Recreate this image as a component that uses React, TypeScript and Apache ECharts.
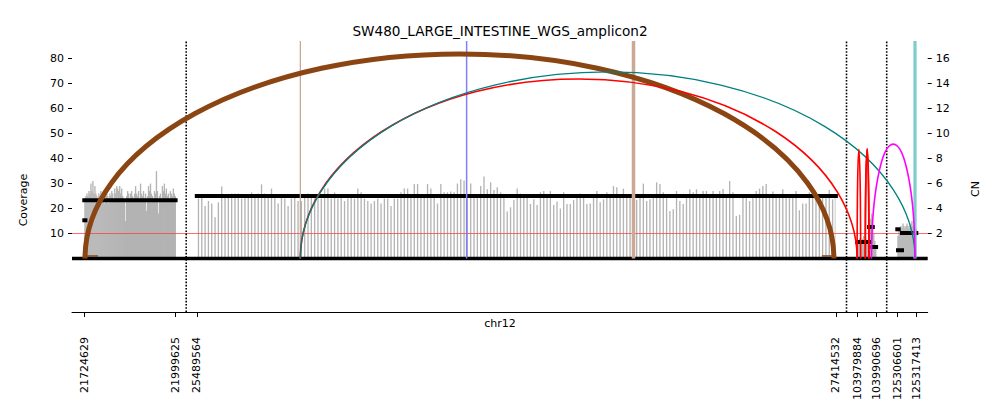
import React, { useEffect, useRef } from "react";
import * as echarts from "echarts";

// ---------------- data ----------------
const TITLE = "SW480_LARGE_INTESTINE_WGS_amplicon2";
const X_NAME = "chr12";
const Y_LEFT_NAME = "Coverage";
const Y_RIGHT_NAME = "CN";

const intervalStarts = [21724629, 25489564, 103979884, 125306601];
const intervalEnds = [21999625, 27414532, 103990696, 125317413];
const tickPositions = [
  21724629, 21999625, 25489564, 27414532, 103979884, 103990696, 125306601, 125317413,
];

const coverageTicks = [10, 20, 30, 40, 50, 60, 70, 80];
const cnTicks = [2, 4, 6, 8, 10, 12, 14, 16];
const referenceCN = 2;
const baselineCoverage = 0;

// coverage windows (bp) per interval
const coverageWindows = [2990, 10000, 569, 569];
const coverage1 = [
  24, 25, 26, 25, 27, 26, 30, 27, 31, 26, 29, 26, 25, 21, 26, 25, 27, 24, 26, 25, 22, 26, 27,
  25, 22, 26, 25, 27, 26, 24, 28, 26, 29, 28, 27, 29, 26, 28, 25, 24, 23, 15, 25, 27, 26, 24,
  26, 27, 25, 23, 26, 29, 26, 25, 27, 24, 30, 26, 25, 27, 24, 26, 19, 25, 29, 27, 30, 26, 25,
  24, 27, 26, 35, 27, 18, 25, 26, 24, 29, 27, 30, 26, 28, 25, 26, 24, 27, 26, 25, 28, 26, 25,
];
const coverage2 = [
  24, 25, 21, 23, 22, 16.5, 22.5, 28.8, 25, 25, 26, 26, 26, 24, 25, 25, 26.5, 25, 26, 29.7,
  26, 25, 28, 25, 22, 25, 24, 21, 24, 25, 23, 23, 25, 26, 25, 24, 25, 24, 28, 28,
  24, 26.5, 24, 25, 23, 24, 25, 24, 28, 26.5, 24, 23, 22, 23, 24, 22, 24, 24, 21, 24,
  24, 26.5, 28, 28, 25, 29.8, 29.8, 25, 25, 29.8, 28, 25, 22, 29.8, 26.5, 26.5, 26.8, 26.5, 30, 31.7,
  31.2, 25, 30, 25, 25, 29, 32.8, 27.7, 30.5, 27.4, 28.5, 26.5, 25, 18.8, 20.5, 23.4, 28, 26, 25, 25,
  21.8, 23.7, 21.4, 26.5, 27, 25, 27, 21.4, 22.8, 20, 26.5, 21.8, 21.8, 23.4, 25, 26, 25, 21.8, 22, 25,
  27, 22.5, 23.7, 26.5, 25, 29, 28.5, 25, 28, 25, 25, 25, 23.4, 25, 30, 23, 23.7, 25, 30.5, 29.8,
  26.5, 25, 19, 19.7, 27, 23, 21.8, 25, 27.7, 26.5, 27.7, 25, 27, 27, 25, 27, 25, 27, 27.8, 25,
  31, 26.5, 17, 17.5, 25, 25, 23, 25, 27, 28, 29, 29.8, 25, 26.8, 25, 25, 27.7, 25, 25, 25,
  27, 19.3, 22, 22, 26.5, 25, 25, 25, 25, 25, 27.4, 23.7, 25,
];
const coverage3 = [6, 7, 8, 6, 7, 8, 9, 7, 8, 6, 7, 9, 12, 16, 18, 14, 10, 7, 5];
const coverage4 = [9, 11, 12, 13, 12, 14, 13, 12, 13, 14, 13, 12, 13, 14, 15, 13, 12, 13, 12];

// copy-number segments
const cnStarts = [21724629, 21724629, 25489564, 103979884, 103986712, 103988647, 125306601, 125309275, 125307000];
const cnEnds = [21999625, 21728000, 27414532, 103987000, 103988817, 103990696, 125307400, 125317413, 125309275];
const cnValues = [4.66, 3.06, 5.0, 1.32, 2.52, 0.92, 2.34, 2.04, 0.66];

// breakpoint arcs
const arcStarts = [21726700, 25801400, 25801400, 103979900, 103984500, 103984600, 103988078];
const arcEnds = [27408500, 103979900, 125316672, 103981900, 103986600, 103986700, 125316672];
const arcPeaks = [81.9, 71.9, 74.7, 43.7, 43.7, 43.7, 45.8];
const arcTypes = ["brown", "red", "teal", "red", "red", "red", "magenta"];

// source edges
const sourcePositions = [25801400, 26302264, 26804934, 125316672];
const sourceTypes = ["brownThin", "blue", "brownThick", "teal"];

// ---------------- styles / layout ----------------
const FONT = '"DejaVu Sans", sans-serif';
const GRAY = "#b3b3b3";
const ARC_STYLE: Record<string, { color: string; width: number; foot: number }> = {
  brown: { color: "#8B4513", width: 5, foot: 13 },
  red: { color: "#ff0000", width: 1.6, foot: 0 },
  teal: { color: "#008080", width: 1.3, foot: 0 },
  magenta: { color: "#ff00ff", width: 1.6, foot: 0 },
};
const SOURCE_STYLE: Record<string, { color: string; width: number }> = {
  brownThin: { color: "#c9a08a", width: 1.2 },
  blue: { color: "#8080ff", width: 1.5 },
  brownThick: { color: "#cba994", width: 3.5 },
  teal: { color: "#7fcccc", width: 3.2 },
};
const BAR_FRACTION = [1, 0.4, 1, 1];

const COV_MIN = -21.43;
const COV_MAX = 87.1;
const CN_PER_COV = 0.2;

const BP_PER_UNIT = 3012;
const MIN_UNITS = 19;
const GAP_UNITS = 21.2;
const PAD_LEFT = 12.3;
const PAD_RIGHT = 11.4;

const widths = intervalStarts.map((s, i) =>
  Math.max((intervalEnds[i] - s) / BP_PER_UNIT, MIN_UNITS)
);
const offsets: number[] = [];
let acc = PAD_LEFT;
for (let i = 0; i < widths.length; i++) {
  offsets.push(acc);
  acc += widths[i] + (i < widths.length - 1 ? GAP_UNITS : PAD_RIGHT);
}
const X_MAX = acc;

function toX(pos: number): number {
  let best = 0;
  let bestD = Infinity;
  for (let i = 0; i < intervalStarts.length; i++) {
    const d =
      pos < intervalStarts[i] ? intervalStarts[i] - pos : pos > intervalEnds[i] ? pos - intervalEnds[i] : 0;
    if (d < bestD) {
      bestD = d;
      best = i;
    }
  }
  const s = intervalStarts[best];
  const e = intervalEnds[best];
  return offsets[best] + ((pos - s) / (e - s)) * widths[best];
}

const tickXs = tickPositions.map(toX);
const gapCenters = offsets.slice(0, -1).map((o, i) => o + widths[i] + GAP_UNITS / 2);

const coverageSets = [coverage1, coverage2, coverage3, coverage4];
const coverageData: number[][] = [];
coverageSets.forEach((vals, s) => {
  const w = coverageWindows[s];
  vals.forEach((v, j) => {
    const a = intervalStarts[s] + j * w;
    const b = Math.min(a + w, intervalEnds[s]);
    coverageData.push([toX(a), toX(b), v, s]);
  });
});

const cnData = cnValues.map((v, i) => [toX(cnStarts[i]), toX(cnEnds[i]), v]);
const arcData = arcPeaks.map((h, i) => [toX(arcStarts[i]), toX(arcEnds[i]), h]);
const sourceData = sourcePositions.map((p) => [toX(p)]);

export default function App() {
  const ref = useRef<HTMLDivElement>(null);
  useEffect(() => {
    document.body.style.margin = "0";
    if (!ref.current) return;
    const chart = echarts.init(ref.current, undefined, { renderer: "svg" });

    const textStyle = (text: string, size: number) => ({
      text,
      font: `${size}px ${FONT}`,
      fill: "#000",
      align: "center",
      verticalAlign: "middle",
    });

    const option: any = {
      animation: false,
      backgroundColor: "#ffffff",
      grid: { left: 72, right: 72.3, top: 41, bottom: 104, containLabel: false },
      graphic: [
        { type: "text", x: 500, y: 30.5, style: textStyle(TITLE, 13.6) },
        { type: "text", x: 23, y: 200, rotation: Math.PI / 2, style: textStyle(Y_LEFT_NAME, 11) },
        { type: "text", x: 975, y: 189, rotation: Math.PI / 2, style: textStyle(Y_RIGHT_NAME, 11) },
        { type: "text", x: 500, y: 323, style: textStyle(X_NAME, 11) },
      ],
      xAxis: {
        type: "value",
        min: 0,
        max: X_MAX,
        position: "bottom",
        axisLine: { show: true, onZero: false, lineStyle: { color: "#000", width: 1 } },
        axisTick: { show: true, customValues: tickXs, length: 5, lineStyle: { color: "#000", width: 1 } },
        axisLabel: {
          customValues: tickXs,
          rotate: 90,
          margin: 25,
          color: "#000",
          fontSize: 11,
          fontFamily: FONT,
          formatter: (val: number) => {
            let bi = 0;
            let bd = Infinity;
            tickXs.forEach((t, i) => {
              const d = Math.abs(t - val);
              if (d < bd) {
                bd = d;
                bi = i;
              }
            });
            return String(tickPositions[bi]);
          },
        },
        splitLine: { show: false },
      },
      yAxis: [
        {
          type: "value",
          min: COV_MIN,
          max: COV_MAX,
          position: "left",
          axisLine: { show: false },
          axisTick: { show: true, customValues: coverageTicks, length: 4, lineStyle: { color: "#000" } },
          axisLabel: { customValues: coverageTicks, margin: 8, color: "#000", fontSize: 11, fontFamily: FONT },
          splitLine: { show: false },
        },
        {
          type: "value",
          min: COV_MIN * CN_PER_COV,
          max: COV_MAX * CN_PER_COV,
          position: "right",
          axisLine: { show: false },
          axisTick: { show: true, customValues: cnTicks, length: 4, lineStyle: { color: "#000" } },
          axisLabel: { customValues: cnTicks, margin: 8, color: "#000", fontSize: 11, fontFamily: FONT },
          splitLine: { show: false },
        },
      ],
      series: [
        {
          type: "custom",
          name: "coverage",
          silent: true,
          z: 1,
          data: coverageData,
          renderItem: (params: any, api: any) => {
            const x0 = api.value(0);
            const x1 = api.value(1);
            const v = api.value(2);
            const s = api.value(3);
            const p0 = api.coord([x0, 0]);
            const p1 = api.coord([x1, v]);
            const full = p1[0] - p0[0];
            const frac = BAR_FRACTION[s];
            const w = frac >= 1 ? full + 0.35 : full * frac;
            const cx = (p0[0] + p1[0]) / 2;
            return {
              type: "rect",
              shape: { x: frac >= 1 ? p0[0] : cx - w / 2, y: p1[1], width: w, height: p0[1] - p1[1] },
              style: { fill: GRAY },
            };
          },
        },
        {
          type: "custom",
          name: "cn2",
          silent: true,
          yAxisIndex: 1,
          z: 2,
          data: [[0, referenceCN]],
          renderItem: (params: any, api: any) => {
            const a = api.coord([0, api.value(1)]);
            const b = api.coord([X_MAX, api.value(1)]);
            const y = Math.floor(a[1]) + 0.5;
            return {
              type: "rect",
              shape: { x: a[0], y: y - 0.6, width: b[0] - a[0], height: 1.2 },
              style: { fill: "rgb(255,60,60)", opacity: 0.75 },
            };
          },
        },
        {
          type: "custom",
          name: "baseline",
          silent: true,
          z: 3,
          data: [[0, baselineCoverage]],
          renderItem: (params: any, api: any) => {
            const a = api.coord([0, api.value(1)]);
            const b = api.coord([X_MAX, api.value(1)]);
            return {
              type: "rect",
              shape: { x: a[0], y: a[1] - 1.75, width: b[0] - a[0], height: 3.5 },
              style: { fill: "#000" },
            };
          },
        },
        {
          type: "custom",
          name: "breaks",
          silent: true,
          z: 3,
          data: gapCenters.map((g) => [g]),
          renderItem: (params: any, api: any) => {
            const x = api.value(0);
            const a = api.coord([x, COV_MIN]);
            const b = api.coord([x, COV_MAX]);
            return {
              type: "line",
              shape: { x1: a[0], y1: a[1], x2: b[0], y2: b[1] },
              style: { stroke: "#000", lineWidth: 1.6, lineDash: [1.6, 1.6] },
            };
          },
        },
        {
          type: "custom",
          name: "cn",
          silent: true,
          yAxisIndex: 1,
          z: 3,
          data: cnData,
          renderItem: (params: any, api: any) => {
            const p0 = api.coord([api.value(0), api.value(2)]);
            const p1 = api.coord([api.value(1), api.value(2)]);
            return {
              type: "rect",
              shape: { x: p0[0] - 2, y: p0[1] - 2, width: p1[0] - p0[0] + 4, height: 4 },
              style: { fill: "#000" },
            };
          },
        },
        {
          type: "custom",
          name: "sources",
          silent: true,
          z: 4,
          data: sourceData,
          renderItem: (params: any, api: any) => {
            const x = api.value(0);
            const a = api.coord([x, 0]);
            const b = api.coord([x, COV_MAX]);
            const st = SOURCE_STYLE[sourceTypes[params.dataIndex]];
            return {
              type: "line",
              shape: { x1: a[0], y1: a[1], x2: b[0], y2: b[1] },
              style: { stroke: st.color, lineWidth: st.width },
            };
          },
        },
        {
          type: "custom",
          name: "arcs",
          silent: true,
          z: 5,
          data: arcData,
          renderItem: (params: any, api: any) => {
            const p0 = api.coord([api.value(0), 0]);
            const p1 = api.coord([api.value(1), 0]);
            const ph = api.coord([api.value(0), api.value(2)]);
            const rx = (p1[0] - p0[0]) / 2;
            const ry = p0[1] - ph[1];
            const st = ARC_STYLE[arcTypes[params.dataIndex]];
            const children: any[] = [
              {
                type: "path",
                shape: { pathData: `M ${p0[0]} ${p0[1]} A ${rx} ${ry} 0 0 1 ${p1[0]} ${p1[1]}` },
                style: { stroke: st.color, lineWidth: st.width, fill: "none" },
              },
            ];
            if (st.foot > 0) {
              const fy = p0[1] - 2.5;
              children.push(
                {
                  type: "line",
                  shape: { x1: p0[0], y1: fy, x2: p0[0] + st.foot, y2: fy },
                  style: { stroke: st.color, lineWidth: 1.5 },
                },
                {
                  type: "line",
                  shape: { x1: p1[0] - st.foot + 1, y1: fy, x2: p1[0], y2: fy },
                  style: { stroke: st.color, lineWidth: 1.5 },
                }
              );
            }
            return { type: "group", children };
          },
        },
      ],
    };
    chart.setOption(option);
    return () => chart.dispose();
  }, []);
  return (
    <div
      ref={ref}
      style={{ position: "absolute", left: 0, top: 0, width: 1000, height: 416, background: "#fff" }}
    />
  );
}
